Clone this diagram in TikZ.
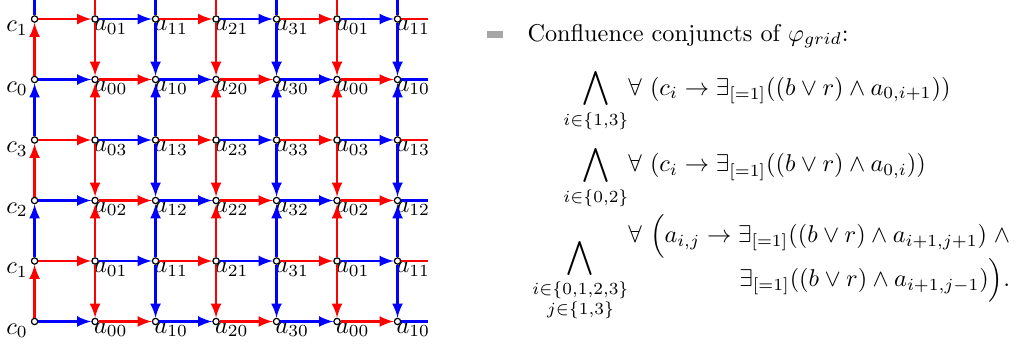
\documentclass[tikz,border=0pt]{standalone}
\usepackage{amsmath}
\usetikzlibrary{arrows}
\usetikzlibrary{math}

\tikzset{
vtx/.style={circle, draw=black, fill=white, line width=0.5pt, inner sep=0pt, minimum size=2.6pt},
clab/.style={anchor=north east, inner sep=0pt, xshift=-2.6pt, yshift=0.8pt},
alab/.style={anchor=north west, inner sep=0pt, xshift=-0.6pt, yshift=1.2pt},
edg/.style={line width=1pt},
}

\begin{document}
\begin{tikzpicture}
\tikzmath{
\d=0.875;
\xo=0.5;
\yo=-4.65;
\xr=6.19;
}
\useasboundingbox (0,0) rectangle (14.71,-4.99);

\foreach \k in {0,...,5}{
\pgfmathtruncatemacro{\j}{mod(\k,4)}
\node[vtx, label={[clab]-90:$c_{\j}$}] (n-0-\k) at (\xo,\yo+\k*\d) {};
\foreach \m in {1,...,6}{
\pgfmathtruncatemacro{\i}{mod(\m-1,4)}
\node[vtx, label={[alab]-90:$a_{\i\j}$}] (n-\m-\k) at (\xo+\m*\d,\yo+\k*\d) {};
}
}

\foreach \k in {0,...,5}{
\foreach \m in {0,...,5}{
\pgfmathtruncatemacro{\mm}{\m+1}
\ifodd\numexpr\k+\m\relax \def\col{red}\else \def\col{blue}\fi
\draw[edg, -latex, color=\col] (n-\m-\k) -- (n-\mm-\k);
}
\ifodd\k \def\col{red}\else \def\col{blue}\fi
\coordinate (r-\k) at (\xr,\yo+\k*\d);
\draw[edg, color=\col] (n-6-\k) -- (r-\k);
}

\foreach \k in {0,...,4}{
\pgfmathtruncatemacro{\kk}{\k+1}
\ifodd\k \def\col{blue}\else \def\col{red}\fi
\draw[edg, -latex, color=\col] (n-0-\k) -- (n-0-\kk);
}

\foreach \m in {1,...,6}{
\ifodd\m \def\col{red}\else \def\col{blue}\fi
\foreach \k in {0,...,4}{
\pgfmathtruncatemacro{\kk}{\k+1}
\ifodd\k
\draw[edg, -latex, color=\col] (n-\m-\k) -- (n-\m-\kk);
\else
\draw[edg, -latex, color=\col] (n-\m-\kk) -- (n-\m-\k);
\fi
}
}

\foreach \m in {0,...,6}{
\ifodd\m \def\col{red}\else \def\col{blue}\fi
\coordinate (t-\m) at (\xo+\m*\d,0);
\draw[edg, color=\col] (n-\m-5) -- (t-\m);
}

\node[fill=gray!70, inner sep=0pt, minimum width=6.5pt, minimum height=2.8pt] (bullet) at (7.16,-0.50) {};
\node[anchor=base west, inner sep=0pt] (head) at (7.623,-0.593) {Confluence conjuncts of $\varphi_{grid}$:};

\node[anchor=north west, inner sep=0pt] (conj) at (7.695,-0.998) {$\begin{aligned}
\bigwedge_{i\in\{1,3\}} &\forall\ (c_i \to \exists_{[=1]}((b\vee r)\wedge a_{0,i+1}))\\[2pt]
\bigwedge_{i\in\{0,2\}} &\forall\ (c_i \to \exists_{[=1]}((b\vee r)\wedge a_{0,i}))\\[-1.6pt]
\bigwedge_{\substack{i\in\{0,1,2,3\}\\ j\in\{1,3\}}} &\begin{array}{@{}r@{}}
\forall\ \Big(a_{i,j} \to \exists_{[=1]}((b\vee r)\wedge a_{i+1,j+1})\;\wedge\\[3pt]
\exists_{[=1]}((b\vee r)\wedge a_{i+1,j-1})\Big).
\end{array}
\end{aligned}$};

\end{tikzpicture}
\end{document}
